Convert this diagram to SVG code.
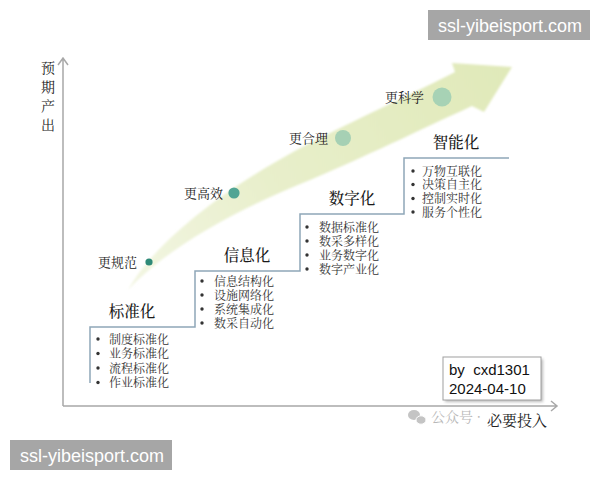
<svg xmlns="http://www.w3.org/2000/svg" width="600" height="480" viewBox="0 0 600 480">
<defs>
<style>
.cjk{font-family:"Noto Serif CJK SC","Noto Sans CJK SC",serif;}
.title{font-size:15.5px;fill:#1a1a1a;text-anchor:middle;font-weight:500;}
.item{font-size:12px;fill:#333;}
.bullet{fill:#333;}
.plabel{font-size:13px;fill:#222;}
.axis{stroke:#a8a8a8;stroke-width:1.5;fill:none;}
.stair{stroke:#8ea7b8;stroke-width:1.5;fill:none;}
.wm{fill:#a6a6a6;}
.wmtext{font-family:"Liberation Sans",Arial,sans-serif;font-size:18px;fill:#ffffff;}
.sig{font-family:"Liberation Sans",Arial,sans-serif;font-size:15px;fill:#111;}
</style>
<linearGradient id="band" x1="128" y1="290" x2="512" y2="68" gradientUnits="userSpaceOnUse">
<stop offset="0" stop-color="#f3f6e3"/>
<stop offset="0.4" stop-color="#e8efcb"/>
<stop offset="1" stop-color="#e0e9b9"/>
</linearGradient>
<filter id="soft" x="-5%" y="-5%" width="110%" height="110%"><feGaussianBlur stdDeviation="1.2"/></filter>
<filter id="shadow" x="-20%" y="-20%" width="140%" height="140%"><feGaussianBlur stdDeviation="1.5"/></filter>
</defs>
<rect width="600" height="480" fill="#ffffff"/>

<g id="trend-arrow">
<path d="M128,290 C150,250 210,195 310,143 C370,113 420,90 455,72 L452,63 L512,67 L484,112 L472,106 C430,125 380,150 310,180 C240,208 170,245 128,290 Z" fill="url(#band)" filter="url(#soft)"/>
</g>

<g id="axes">
<path class="axis" d="M63,406 L63,58 M58,65 L63,58 L68,65"/>
<path class="axis" d="M63,406 L557,406 M551,401 L557,406 L551,411"/>
<text class="cjk" x="48" y="73" font-size="14" fill="#222" text-anchor="middle">预</text>
<text class="cjk" x="48" y="92" font-size="14" fill="#222" text-anchor="middle">期</text>
<text class="cjk" x="48" y="111" font-size="14" fill="#222" text-anchor="middle">产</text>
<text class="cjk" x="48" y="130" font-size="14" fill="#222" text-anchor="middle">出</text>
<text class="cjk" x="487" y="425.5" font-size="15" fill="#222">必要投入</text>
</g>

<g id="connectors">
<path class="stair" d="M90,383 L90,327 L195,327 L195,271 L300,271 L300,214 L404,214 L404,158 L509,158"/>
</g>

<g id="step-standard">
<text class="cjk title" x="132" y="316.5">标准化</text>
<circle class="bullet" cx="98" cy="339" r="1.7"/><circle class="bullet" cx="98" cy="353.5" r="1.7"/><circle class="bullet" cx="98" cy="368" r="1.7"/><circle class="bullet" cx="98" cy="382.5" r="1.7"/>
<text class="cjk item" x="109" y="343.5">制度标准化</text>
<text class="cjk item" x="109" y="358">业务标准化</text>
<text class="cjk item" x="109" y="372.5">流程标准化</text>
<text class="cjk item" x="109" y="387">作业标准化</text>
</g>

<g id="step-info">
<text class="cjk title" x="247" y="260.5">信息化</text>
<circle class="bullet" cx="202" cy="281" r="1.7"/><circle class="bullet" cx="202" cy="295" r="1.7"/><circle class="bullet" cx="202" cy="309" r="1.7"/><circle class="bullet" cx="202" cy="323" r="1.7"/>
<text class="cjk item" x="214" y="285.5">信息结构化</text>
<text class="cjk item" x="214" y="299.5">设施网络化</text>
<text class="cjk item" x="214" y="313.5">系统集成化</text>
<text class="cjk item" x="214" y="327.5">数采自动化</text>
</g>

<g id="step-digital">
<text class="cjk title" x="352" y="203.5">数字化</text>
<circle class="bullet" cx="307" cy="227" r="1.7"/><circle class="bullet" cx="307" cy="241" r="1.7"/><circle class="bullet" cx="307" cy="255" r="1.7"/><circle class="bullet" cx="307" cy="269" r="1.7"/>
<text class="cjk item" x="319" y="231.5">数据标准化</text>
<text class="cjk item" x="319" y="245.5">数采多样化</text>
<text class="cjk item" x="319" y="259.5">业务数字化</text>
<text class="cjk item" x="319" y="273.5">数字产业化</text>
</g>

<g id="step-smart">
<text class="cjk title" x="456" y="147.5">智能化</text>
<circle class="bullet" cx="413" cy="171" r="1.7"/><circle class="bullet" cx="413" cy="184.5" r="1.7"/><circle class="bullet" cx="413" cy="198.5" r="1.7"/><circle class="bullet" cx="413" cy="212" r="1.7"/>
<text class="cjk item" x="422" y="175.5">万物互联化</text>
<text class="cjk item" x="422" y="189">决策自主化</text>
<text class="cjk item" x="422" y="203">控制实时化</text>
<text class="cjk item" x="422" y="216.5">服务个性化</text>
</g>

<g id="point-norm">
<circle cx="149" cy="262" r="3.6" fill="#2f8a78"/>
<text class="cjk plabel" x="98" y="267">更规范</text>
</g>
<g id="point-efficient">
<circle cx="234" cy="193" r="5.6" fill="#52a594"/>
<text class="cjk plabel" x="184" y="197.5">更高效</text>
</g>
<g id="point-rational">
<circle cx="343" cy="138" r="8" fill="#a6d0b4"/>
<text class="cjk plabel" x="289" y="143">更合理</text>
</g>
<g id="point-scientific">
<circle cx="442" cy="97" r="9.5" fill="#a7d2b5"/>
<text class="cjk plabel" x="385" y="101.5">更科学</text>
</g>

<g id="signature">
<rect x="445" y="359" width="98" height="43" fill="#bbbbbb" filter="url(#shadow)"/>
<rect x="443" y="357" width="98" height="43" fill="#ffffff" stroke="#a0a0a0" stroke-width="1"/>
<text class="sig" x="449" y="375">by&#160; cxd1301</text>
<text class="sig" x="449" y="394">2024-04-10</text>
</g>

<g id="wechat-mark">
<ellipse cx="414" cy="415" rx="6" ry="5" fill="#c4c4c4"/>
<ellipse cx="421" cy="420" rx="5" ry="4.2" fill="#c4c4c4" stroke="#ffffff" stroke-width="1"/>
<text class="cjk" x="431" y="422" font-size="14" fill="#b8b8b8">公众号 ·</text>
</g>

<g id="watermark-top">
<rect class="wm" x="428" y="10" width="162" height="30"/>
<text class="wmtext" x="438" y="31.5">ssl-yibeisport.com</text>
</g>
<g id="watermark-bottom">
<rect class="wm" x="10" y="440" width="162" height="30"/>
<text class="wmtext" x="20" y="461.5">ssl-yibeisport.com</text>
</g>
</svg>
